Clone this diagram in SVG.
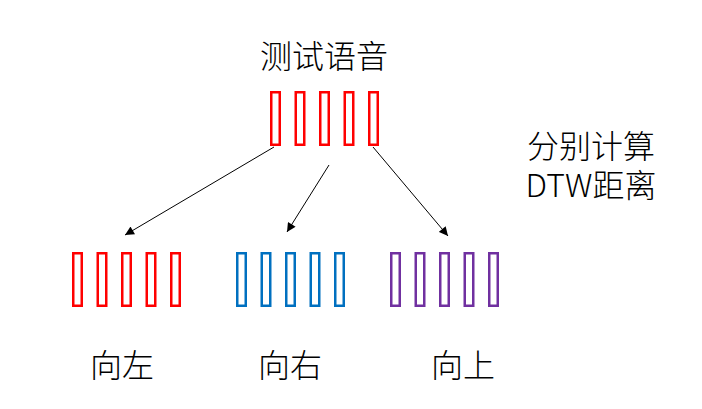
<svg xmlns="http://www.w3.org/2000/svg" width="702" height="409" viewBox="0 0 702 409">
<style>
.t{font-family:"Noto Sans CJK SC","Noto Sans",sans-serif;font-size:32px;font-weight:300;fill:#000;text-anchor:middle}
.r rect{fill:none;stroke:#FF0000;stroke-width:2.5}
.b rect{fill:none;stroke:#0070C0;stroke-width:2.5}
.p rect{fill:none;stroke:#7030A0;stroke-width:2.5}
.c line{stroke:#000;stroke-width:1}
</style>
<defs>
<marker id="ah" viewBox="0 0 10 10" refX="10" refY="5" markerWidth="10" markerHeight="9" markerUnits="userSpaceOnUse" orient="auto">
<path d="M0,0 L10,5 L0,10 z" fill="#000"/>
</marker>
</defs>
<rect width="702" height="409" fill="#fff"/>
<g id="test">
<text class="t" x="324" y="68">测试语音</text>
<g class="r">
<rect x="271.25" y="92.25" width="8.5" height="52.5"/>
<rect x="295.75" y="92.25" width="8.5" height="52.5"/>
<rect x="320.25" y="92.25" width="8.5" height="52.5"/>
<rect x="344.75" y="92.25" width="8.5" height="52.5"/>
<rect x="369.25" y="92.25" width="8.5" height="52.5"/>
</g>
</g>
<g id="left">
<g class="r">
<rect x="73.25" y="253.25" width="8.5" height="52.5"/>
<rect x="97.75" y="253.25" width="8.5" height="52.5"/>
<rect x="122.25" y="253.25" width="8.5" height="52.5"/>
<rect x="146.75" y="253.25" width="8.5" height="52.5"/>
<rect x="171.25" y="253.25" width="8.5" height="52.5"/>
</g>
<text class="t" x="122" y="377">向左</text>
</g>
<g id="right">
<g class="b">
<rect x="237.25" y="253.25" width="8.5" height="52.5"/>
<rect x="261.75" y="253.25" width="8.5" height="52.5"/>
<rect x="286.25" y="253.25" width="8.5" height="52.5"/>
<rect x="310.75" y="253.25" width="8.5" height="52.5"/>
<rect x="335.25" y="253.25" width="8.5" height="52.5"/>
</g>
<text class="t" x="290" y="377">向右</text>
</g>
<g id="up">
<g class="p">
<rect x="391.25" y="253.25" width="8.5" height="52.5"/>
<rect x="415.75" y="253.25" width="8.5" height="52.5"/>
<rect x="440.25" y="253.25" width="8.5" height="52.5"/>
<rect x="464.75" y="253.25" width="8.5" height="52.5"/>
<rect x="489.25" y="253.25" width="8.5" height="52.5"/>
</g>
<text class="t" x="463" y="377">向上</text>
</g>
<g id="note">
<text class="t" x="591" y="158">分别计算<tspan x="591" y="197">DTW距离</tspan></text>
</g>
<g id="connectors" class="c">
<line x1="274" y1="147" x2="125" y2="235" marker-end="url(#ah)"/>
<line x1="329" y1="165" x2="287" y2="232" marker-end="url(#ah)"/>
<line x1="373" y1="147" x2="448" y2="236" marker-end="url(#ah)"/>
</g>
</svg>
